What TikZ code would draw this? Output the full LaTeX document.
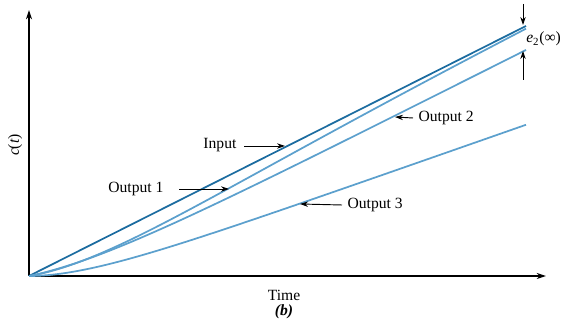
\documentclass[tikz,border=0pt]{standalone}
\usepackage{fontspec}
\setmainfont{Liberation Serif}
\usetikzlibrary{arrows.meta}
\definecolor{inblue}{RGB}{28,108,160}
\definecolor{outblue}{RGB}{92,160,205}
\begin{document}
\begin{tikzpicture}[x=0.75pt,y=-0.75pt,
  font=\fontsize{11.7}{14}\selectfont,
  axis/.style={line width=0.9pt,-{Stealth[length=7pt,width=4.5pt]}},
  pointer/.style={line width=0.7pt,-{Stealth[length=6pt,width=4pt]}},
  inline/.style={inblue,line width=1.3pt},
  outline/.style={outblue,line width=1.3pt},
  lbl/.style={inner sep=1pt}]
\useasboundingbox (0,0) rectangle (565,323);
% axes
\coordinate (O) at (29,276);
\coordinate (ytop) at (29,10);
\coordinate (xend) at (546,276);
\draw[axis] (O) -- (ytop);
\draw[axis] (O) -- (xend);
% curves
\coordinate (inend) at (526,26);
\draw[inline] (O) -- (inend);
\draw[outline] plot[domain=0:497,samples=120,smooth] ({29+\x},{276-(0.503*\x-0.34*\x*exp(-\x/120))});
\draw[outline] plot[domain=0:497,samples=120,smooth] ({29+\x},{276-(0.503*\x-24*(1-exp(-\x/80)))});
\draw[outline] plot[domain=0:497,samples=120,smooth] ({29+\x},{276-(0.35*(\x-65*(1-exp(-\x/65))))});
% labels
\node[lbl] (ct) at (15,145) {\rotatebox{90}{\textit{c}(\textit{t})}};
\node[lbl] (time) at (284,295) {Time};
\node[lbl] (fig) at (284,312) {\textbf{\textit{(b)}}};
\node[lbl,anchor=east] (linput) at (238,145) {Input};
\node[lbl,anchor=east] (lout1) at (165,189) {Output 1};
\node[lbl,anchor=west] (lout2) at (417,118) {Output 2};
\node[lbl,anchor=west] (lout3) at (346,205) {Output 3};
\node[inner sep=0pt,anchor=west] (le2) at (526,39) {\textit{e}\textsubscript{2}(∞)};
% pointers
\coordinate (tinput) at (285,146);
\coordinate (tout1) at (229,189);
\coordinate (tout2) at (395,117);
\coordinate (tout3) at (300,204);
\draw[pointer] (linput.east) ++(6,1) coordinate (sinput) -- (tinput);
\draw[pointer] (lout1.east) ++(14,0) coordinate (sout1) -- (tout1);
\draw[pointer] (lout2.west) ++(-4,0) coordinate (sout2) -- (tout2);
\draw[pointer] (lout3.west) ++(-4,0) coordinate (sout3) -- (tout3);
\coordinate (e2a) at (523,4);
\coordinate (e2at) at (523,25);
\coordinate (e2b) at (523,80);
\coordinate (e2bt) at (523,51);
\draw[pointer] (e2a) -- (e2at);
\draw[pointer] (e2b) -- (e2bt);
\end{tikzpicture}
\end{document}
